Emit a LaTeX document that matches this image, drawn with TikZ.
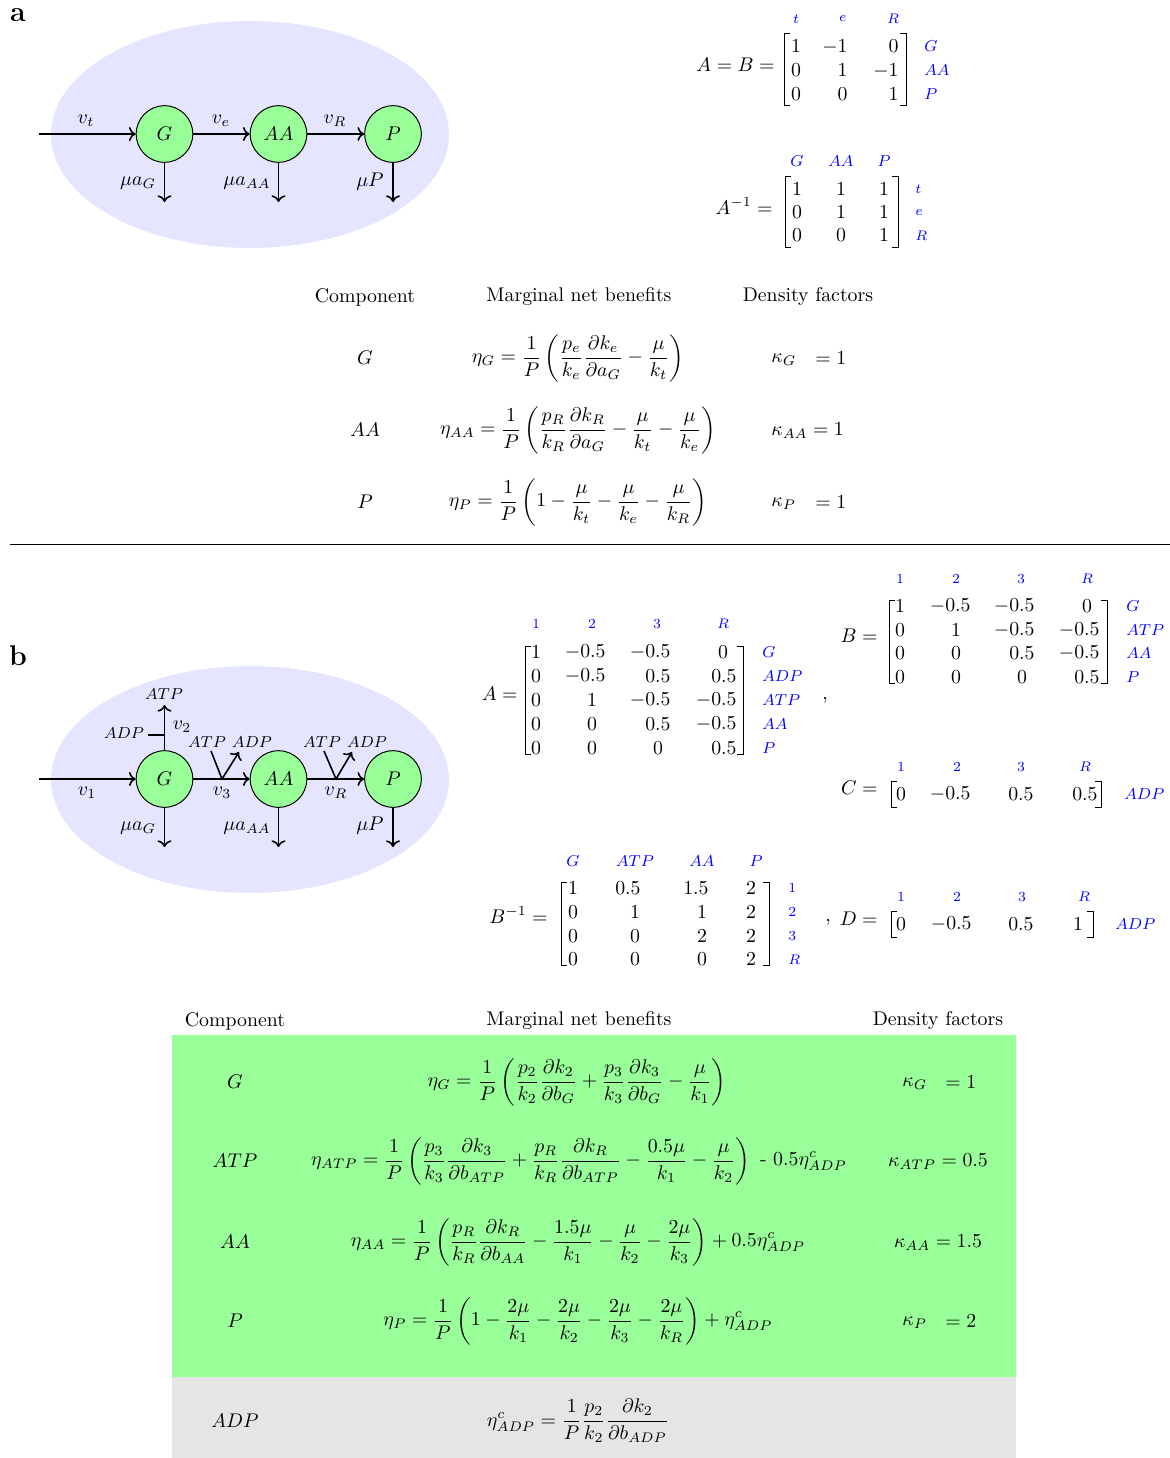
\documentclass[tikz,border=0pt]{standalone}
\usepackage{amsmath}
\usetikzlibrary{arrows.meta}
\newcommand\LB[3]{\draw[brk] ({#1+6},#2) -- (#1,#2) -- (#1,#3) -- ({#1+6},#3);}
\newcommand\RB[3]{\draw[brk] ({#1-6},#2) -- (#1,#2) -- (#1,#3) -- ({#1-6},#3);}
\begin{document}
\begin{tikzpicture}[x=0.505pt,y=-0.505pt,
  txt/.style={inner sep=0pt},
  sml/.style={inner sep=0pt,font=\footnotesize},
  rlab/.style={inner sep=0pt,text=blue,font=\scriptsize},
  mlab/.style={inner sep=0pt,text=blue,font=\footnotesize},
  brk/.style={line width=0.5pt},
  met/.style={circle,draw,line width=0.5pt,fill=green!40,minimum size=28.6pt,inner sep=0pt},
  flux/.style={->,line width=0.8pt},
  plainline/.style={line width=0.8pt},
  panel/.style={inner sep=0pt,font=\Large\bfseries}]
\useasboundingbox (0,0) rectangle (1170,1458);

% ================= Panel a =================
\node[panel] (la) at (18,15) {a};
\fill[blue!10] (250,134.5) ellipse [x radius=100.5pt, y radius=57.3pt];
\node[met] (G1) at (164.5,134) {$G$};
\node[met] (AA1) at (278.5,134) {$AA$};
\node[met] (P1) at (393,134) {$P$};
\coordinate (in1) at (39,134);
\coordinate (dG1) at (164.5,202);
\coordinate (dAA1) at (278.5,202);
\coordinate (dP1) at (393,202);
\draw[flux] (in1) -- (G1);
\draw[flux] (G1) -- (AA1);
\draw[flux] (AA1) -- (P1);
\draw[flux] (G1) -- (dG1);
\draw[flux] (AA1) -- (dAA1);
\draw[flux] (P1) -- (dP1);
\node[txt] (vt) at (86,121) {$v_t$};
\node[txt] (ve) at (221,121) {$v_e$};
\node[txt] (vR1) at (335,121) {$v_R$};
\node[txt] (muG1) at (138,183) {$\mu a_G$};
\node[txt] (muAA1) at (247,183) {$\mu a_{AA}$};
\node[txt] (muP1) at (370,182) {$\mu P$};

% A = B matrix
\node[txt,anchor=base east] (eqAB) at (775,71) {$A = B =$};
\node[rlab] (cAB1) at (796,19) {$t$};
\node[rlab] (cAB2) at (843,19) {$e$};
\node[rlab] (cAB3) at (893,19) {$R$};
\node[mlab,anchor=west] (rAB1) at (924,46.5) {$G$};
\node[mlab,anchor=west] (rAB2) at (924,70.5) {$AA$};
\node[mlab,anchor=west] (rAB3) at (924,94) {$P$};
\node[txt] (ab11) at (796,46.5) {$1$};
\node[txt,anchor=east] (ab12) at (848,46.5) {$-1$};
\node[txt,anchor=east] (ab13) at (899,46.5) {$0$};
\node[txt] (ab21) at (796,70.5) {$0$};
\node[txt,anchor=east] (ab22) at (848,70.5) {$1$};
\node[txt,anchor=east] (ab23) at (899,70.5) {$-1$};
\node[txt] (ab31) at (796,94) {$0$};
\node[txt,anchor=east] (ab32) at (848,94) {$0$};
\node[txt,anchor=east] (ab33) at (899,94) {$1$};
\LB{784}{33}{105}
\RB{906}{33}{105}

% A^{-1}
\node[txt,anchor=base east] (eqAi) at (773,214) {$A^{-1} =$};
\node[mlab] (cAi1) at (797,161) {$G$};
\node[mlab] (cAi2) at (841,161) {$AA$};
\node[mlab] (cAi3) at (884,161) {$P$};
\node[rlab,anchor=west] (rAi1) at (915,189) {$t$};
\node[rlab,anchor=west] (rAi2) at (915,213) {$e$};
\node[rlab,anchor=west] (rAi3) at (915,236) {$R$};
\node[txt] (ai11) at (797,189) {$1$};
\node[txt] (ai12) at (841,189) {$1$};
\node[txt] (ai13) at (884,189) {$1$};
\node[txt] (ai21) at (797,212) {$0$};
\node[txt] (ai22) at (841,212) {$1$};
\node[txt] (ai23) at (884,212) {$1$};
\node[txt] (ai31) at (797,235) {$0$};
\node[txt] (ai32) at (841,235) {$0$};
\node[txt] (ai33) at (884,235) {$1$};
\LB{785}{176}{247}
\RB{898}{176}{247}

% Table a
\node[txt] (ha1) at (365,297) {Component};
\node[txt] (ha2) at (579,297) {Marginal net benefits};
\node[txt] (ha3) at (808,297) {Density factors};
\node[txt] (ca1) at (365,358) {$G$};
\node[txt] (ca2) at (365,430) {$AA$};
\node[txt] (ca3) at (365,502) {$P$};
\node[txt] (fa1) at (578,358) {$\displaystyle \eta_G = \frac{1}{P}\left(\frac{p_e}{k_e}\frac{\partial k_e}{\partial a_G} - \frac{\mu}{k_t}\right)$};
\node[txt] (fa2) at (578,430) {$\displaystyle \eta_{AA} = \frac{1}{P}\left(\frac{p_R}{k_R}\frac{\partial k_R}{\partial a_G} - \frac{\mu}{k_t} - \frac{\mu}{k_e}\right)$};
\node[txt] (fa3) at (578,502) {$\displaystyle \eta_P = \frac{1}{P}\left(1 - \frac{\mu}{k_t} - \frac{\mu}{k_e} - \frac{\mu}{k_R}\right)$};
\node[txt,anchor=west] (ka1) at (771,360) {$\kappa_G$};
\node[txt,anchor=west] (ka1b) at (815,358) {$=1$};
\node[txt,anchor=west] (ka2) at (771,431) {$\kappa_{AA} = 1$};
\node[txt,anchor=west] (ka3) at (771,504) {$\kappa_P$};
\node[txt,anchor=west] (ka3b) at (815,502) {$=1$};

\draw[line width=0.5pt] (10,544) -- (1170,544);

% ================= Panel b =================
\node[panel] (lb) at (18,656) {b};
\fill[blue!10] (250,779.5) ellipse [x radius=100.5pt, y radius=57.3pt];
\node[met] (G2) at (164.5,779) {$G$};
\node[met] (AA2) at (278.5,779) {$AA$};
\node[met] (P2) at (393,779) {$P$};
\coordinate (in2) at (39,779);
\coordinate (dG2) at (164.5,847);
\coordinate (dAA2) at (278.5,847);
\coordinate (dP2) at (393,847);
\coordinate (up2) at (164.5,705);
\coordinate (tk1) at (148,735);
\coordinate (tk2) at (164.5,735);
\coordinate (va1) at (211,751);
\coordinate (vb1) at (222,779);
\coordinate (vc1) at (239,752);
\coordinate (va2) at (324,751);
\coordinate (vb2) at (336,779);
\coordinate (vc2) at (352,752);
\draw[flux] (in2) -- (G2);
\draw[flux] (G2) -- (AA2);
\draw[flux] (AA2) -- (P2);
\draw[flux] (G2) -- (dG2);
\draw[flux] (AA2) -- (dAA2);
\draw[flux] (P2) -- (dP2);
\draw[flux] (G2) -- (up2);
\draw[plainline] (tk1) -- (tk2);
\draw[plainline] (va1) -- (vb1);
\draw[flux] (vb1) -- (vc1);
\draw[plainline] (va2) -- (vb2);
\draw[flux] (vb2) -- (vc2);
\node[sml] (atpU) at (164,694) {$ATP$};
\node[sml] (adpL) at (124,733) {$ADP$};
\node[txt] (v2) at (182,727) {$v_2$};
\node[sml] (atp3) at (207,742) {$ATP$};
\node[sml] (adp3) at (252,742) {$ADP$};
\node[sml] (atpR) at (322,742) {$ATP$};
\node[sml] (adpR) at (367,742) {$ADP$};
\node[txt] (v1) at (87,793) {$v_1$};
\node[txt] (v3) at (222,793) {$v_3$};
\node[txt] (vR2) at (336,793) {$v_R$};
\node[txt] (muG2) at (138,828) {$\mu a_G$};
\node[txt] (muAA2) at (247,828) {$\mu a_{AA}$};
\node[txt] (muP2) at (370,826) {$\mu P$};

% Matrix A (b)
\node[txt,anchor=base east] (eqA) at (518,700) {$A =$};
\node[rlab] (cA1) at (536,624) {$1$};
\node[rlab] (cA2) at (592,624) {$2$};
\node[rlab] (cA3) at (657,624) {$3$};
\node[rlab] (cA4) at (723,624) {$R$};
\node[mlab,anchor=west] (rA1) at (762,652) {$G$};
\node[mlab,anchor=west] (rA2) at (762,676) {$ADP$};
\node[mlab,anchor=west] (rA3) at (762,700) {$ATP$};
\node[mlab,anchor=west] (rA4) at (762,724) {$AA$};
\node[mlab,anchor=west] (rA5) at (762,748) {$P$};
% row 1
\node[txt] (a11) at (536,652) {$1$};
\node[txt,anchor=east] (a12) at (606,652) {$-0.5$};
\node[txt,anchor=east] (a13) at (671,652) {$-0.5$};
\node[txt] (a14) at (723,652) {$0$};
% row 2
\node[txt] (a21) at (536,676) {$0$};
\node[txt,anchor=east] (a22) at (606,676) {$-0.5$};
\node[txt,anchor=east] (a23) at (671,676) {$0.5$};
\node[txt,anchor=east] (a24) at (737,676) {$0.5$};
% row 3
\node[txt] (a31) at (536,700) {$0$};
\node[txt] (a32) at (592,700) {$1$};
\node[txt,anchor=east] (a33) at (671,700) {$-0.5$};
\node[txt,anchor=east] (a34) at (737,700) {$-0.5$};
% row 4
\node[txt] (a41) at (536,724) {$0$};
\node[txt] (a42) at (592,724) {$0$};
\node[txt,anchor=east] (a43) at (671,724) {$0.5$};
\node[txt,anchor=east] (a44) at (737,724) {$-0.5$};
% row 5
\node[txt] (a51) at (536,748) {$0$};
\node[txt] (a52) at (592,748) {$0$};
\node[txt] (a53) at (658,748) {$0$};
\node[txt,anchor=east] (a54) at (737,748) {$0.5$};
\LB{525}{646}{754}
\RB{743}{646}{754}
\node[txt,anchor=base] (cm1) at (825,699) {,};

% Matrix B (b)
\node[txt,anchor=base east] (eqB) at (878,642) {$B =$};
\node[rlab] (cB1) at (900,579) {$1$};
\node[rlab] (cB2) at (956,579) {$2$};
\node[rlab] (cB3) at (1021,579) {$3$};
\node[rlab] (cB4) at (1087,579) {$R$};
\node[mlab,anchor=west] (rB1) at (1126,606) {$G$};
\node[mlab,anchor=west] (rB2) at (1126,630) {$ATP$};
\node[mlab,anchor=west] (rB3) at (1126,653) {$AA$};
\node[mlab,anchor=west] (rB4) at (1126,677) {$P$};
\node[txt] (b11) at (900,606) {$1$};
\node[txt,anchor=east] (b12) at (971,606) {$-0.5$};
\node[txt,anchor=east] (b13) at (1035,606) {$-0.5$};
\node[txt] (b14) at (1087,606) {$0$};
\node[txt] (b21) at (900,630) {$0$};
\node[txt] (b22) at (956,630) {$1$};
\node[txt,anchor=east] (b23) at (1035,630) {$-0.5$};
\node[txt,anchor=east] (b24) at (1100,630) {$-0.5$};
\node[txt] (b31) at (900,653) {$0$};
\node[txt] (b32) at (956,653) {$0$};
\node[txt,anchor=east] (b33) at (1035,653) {$0.5$};
\node[txt,anchor=east] (b34) at (1100,653) {$-0.5$};
\node[txt] (b41) at (900,677) {$0$};
\node[txt] (b42) at (956,677) {$0$};
\node[txt] (b43) at (1022,677) {$0$};
\node[txt,anchor=east] (b44) at (1100,677) {$0.5$};
\LB{889}{600}{683}
\RB{1107}{600}{683}

% Matrix C
\node[txt,anchor=base east] (eqC) at (878,794) {$C =$};
\node[rlab] (cC1) at (901,767) {$1$};
\node[rlab] (cC2) at (957,767) {$2$};
\node[rlab] (cC3) at (1021,767) {$3$};
\node[rlab] (cC4) at (1085,767) {$R$};
\node[mlab,anchor=west] (rC1) at (1124,794) {$ADP$};
\node[txt] (c11) at (901,794) {$0$};
\node[txt,anchor=east] (c12) at (971,794) {$-0.5$};
\node[txt,anchor=east] (c13) at (1034,794) {$0.5$};
\node[txt,anchor=east] (c14) at (1098,794) {$0.5$};
\LB{891}{781}{807}
\RB{1101}{781}{807}

% Matrix D
\node[txt,anchor=base] (cm2) at (828,921) {,};
\node[txt,anchor=base east] (eqD) at (878,925) {$D =$};
\node[rlab] (cD1) at (901,897) {$1$};
\node[rlab] (cD2) at (957,897) {$2$};
\node[rlab] (cD3) at (1022,897) {$3$};
\node[rlab] (cD4) at (1084,897) {$R$};
\node[mlab,anchor=west] (rD1) at (1115,924) {$ADP$};
\node[txt] (d11) at (901,924) {$0$};
\node[txt,anchor=east] (d12) at (972,924) {$-0.5$};
\node[txt,anchor=east] (d13) at (1034,924) {$0.5$};
\node[txt] (d14) at (1078,924) {$1$};
\LB{891}{911}{937}
\RB{1093}{911}{937}

% Matrix B^{-1}
\node[txt,anchor=base east] (eqBi) at (548,923) {$B^{-1} =$};
\node[mlab] (cBi1) at (573,861) {$G$};
\node[mlab] (cBi2) at (635,861) {$ATP$};
\node[mlab] (cBi3) at (702,861) {$AA$};
\node[mlab] (cBi4) at (756,861) {$P$};
\node[rlab,anchor=west] (rBi1) at (788,888) {$1$};
\node[rlab,anchor=west] (rBi2) at (788,912) {$2$};
\node[rlab,anchor=west] (rBi3) at (788,936) {$3$};
\node[rlab,anchor=west] (rBi4) at (788,960) {$R$};
\node[txt] (bi11) at (573,888) {$1$};
\node[txt,anchor=east] (bi12) at (641,888) {$0.5$};
\node[txt,anchor=east] (bi13) at (709,888) {$1.5$};
\node[txt] (bi14) at (751,888) {$2$};
\node[txt] (bi21) at (573,912) {$0$};
\node[txt] (bi22) at (635,912) {$1$};
\node[txt] (bi23) at (702,912) {$1$};
\node[txt] (bi24) at (751,912) {$2$};
\node[txt] (bi31) at (573,936) {$0$};
\node[txt] (bi32) at (635,936) {$0$};
\node[txt] (bi33) at (702,936) {$2$};
\node[txt] (bi34) at (751,936) {$2$};
\node[txt] (bi41) at (573,959) {$0$};
\node[txt] (bi42) at (635,959) {$0$};
\node[txt] (bi43) at (702,959) {$0$};
\node[txt] (bi44) at (751,959) {$2$};
\LB{561}{882}{965}
\RB{769}{882}{965}

% Table b
\fill[green!40] (172,1035) rectangle (1016,1377);
\fill[gray!20] (172,1377) rectangle (1016,1458);
\node[txt] (hb1) at (235,1021) {Component};
\node[txt] (hb2) at (579,1021) {Marginal net benefits};
\node[txt] (hb3) at (938,1021) {Density factors};
\node[txt] (cb1) at (235,1082) {$G$};
\node[txt] (cb2) at (235,1161) {$ATP$};
\node[txt] (cb3) at (235,1242) {$AA$};
\node[txt] (cb4) at (235,1321) {$P$};
\node[txt] (cb5) at (235,1421) {$ADP$};
\node[txt] (fb1) at (577,1082) {$\displaystyle \eta_G = \frac{1}{P}\left(\frac{p_2}{k_2}\frac{\partial k_2}{\partial b_G} + \frac{p_3}{k_3}\frac{\partial k_3}{\partial b_G} - \frac{\mu}{k_1}\right)$};
\node[txt] (fb2) at (579,1161) {$\displaystyle \eta_{ATP} = \frac{1}{P}\left(\frac{p_3}{k_3}\frac{\partial k_3}{\partial b_{ATP}} + \frac{p_R}{k_R}\frac{\partial k_R}{\partial b_{ATP}} - \frac{0.5\mu}{k_1} - \frac{\mu}{k_2}\right)\text{ - }0.5\eta^c_{ADP}$};
\node[txt] (fb3) at (578,1242) {$\displaystyle \eta_{AA} = \frac{1}{P}\left(\frac{p_R}{k_R}\frac{\partial k_R}{\partial b_{AA}} - \frac{1.5\mu}{k_1} - \frac{\mu}{k_2} - \frac{2\mu}{k_3}\right) + 0.5\eta^c_{ADP}$};
\node[txt] (fb4) at (578,1321) {$\displaystyle \eta_P = \frac{1}{P}\left(1 - \frac{2\mu}{k_1} - \frac{2\mu}{k_2} - \frac{2\mu}{k_3} - \frac{2\mu}{k_R}\right) + \eta^c_{ADP}$};
\node[txt] (fb5) at (578,1421) {$\displaystyle \eta^c_{ADP} = \frac{1}{P}\frac{p_2}{k_2}\frac{\partial k_2}{\partial b_{ADP}}$};
\node[txt,anchor=west] (kb1) at (902,1084) {$\kappa_G$};
\node[txt,anchor=west] (kb1b) at (945,1082) {$=1$};
\node[txt] (kb2) at (938,1162) {$\kappa_{ATP} = 0.5$};
\node[txt] (kb3) at (938,1243) {$\kappa_{AA} = 1.5$};
\node[txt,anchor=west] (kb4) at (902,1323) {$\kappa_P$};
\node[txt,anchor=west] (kb4b) at (945,1321) {$=2$};
\end{tikzpicture}
\end{document}
